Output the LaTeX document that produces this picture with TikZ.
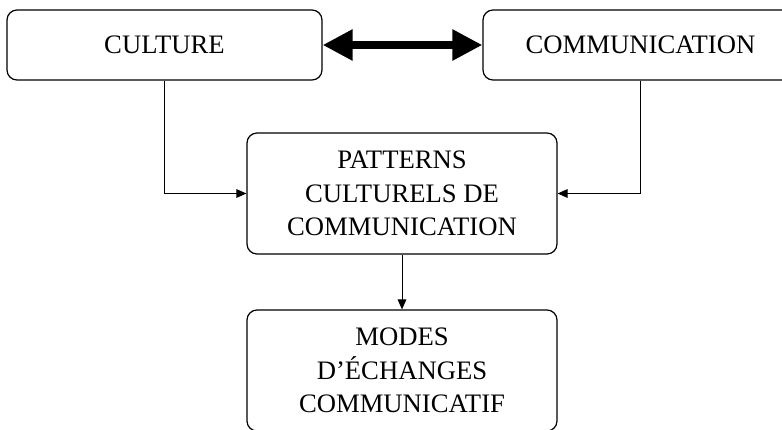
\documentclass[tikz,border=0pt]{standalone}
\usepackage{fontspec}
\setmainfont{Liberation Serif}
\usetikzlibrary{arrows.meta}

\tikzset{
  rbox/.style={draw, line width=0.9pt, rounded corners=7.5pt, align=center, inner sep=0pt,
    font=\fontsize{20}{25}\selectfont},
  thin arrow/.style={line width=0.75pt, -{Triangle[length=7.5pt, width=6.5pt]}},
  thick arrow/.style={line width=6pt, {Triangle[length=22.5pt, width=22pt]}-{Triangle[length=22.5pt, width=22pt]}}
}

\begin{document}
\begin{tikzpicture}[x=0.75pt,y=0.75pt,yscale=-1,xscale=1]
\useasboundingbox (0,0) rectangle (782,429);

% Rounded Rect
\node (culture) [rbox, minimum width=236.25pt, minimum height=52.5pt] at (164.5,45) {CULTURE};
% Rounded Rect
\node (comm) [rbox, minimum width=236.25pt, minimum height=52.5pt] at (640.5,45) {COMMUNICATION};
% Rounded Rect
\node (patterns) [rbox, minimum width=232.5pt, minimum height=90.75pt] at (402,193.5) {PATTERNS\\CULTURELS DE\\COMMUNICATION};
% Rounded Rect
\node (modes) [rbox, minimum width=232.5pt, minimum height=90.75pt] at (402,370.5) {MODES\\D’ÉCHANGES\\COMMUNICATIF};

% Connectors
\draw [thick arrow] (culture.east) -- (comm.west);
\draw [thin arrow] (culture.south) |- (patterns.west);
\draw [thin arrow] (comm.south) |- (patterns.east);
\draw [thin arrow] (patterns.south) -- (modes.north);

\end{tikzpicture}
\end{document}
